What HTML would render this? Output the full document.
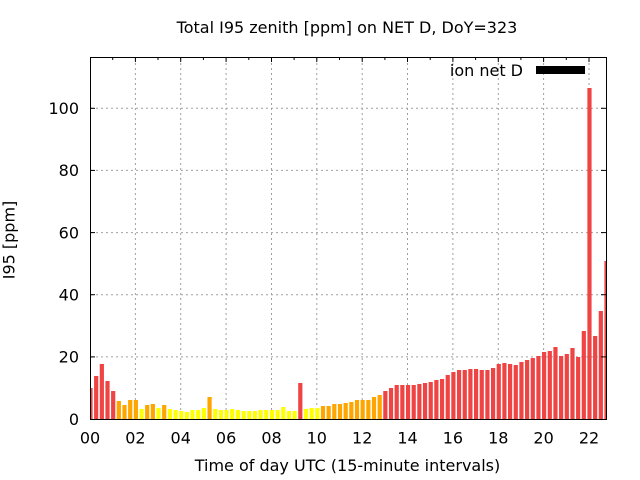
<!DOCTYPE html>
<html>
<head>
<meta charset="utf-8">
<style>
  html, body { margin: 0; padding: 0; background: #ffffff; }
  svg { display: block; }
  text { font-family: "DejaVu Sans", "Liberation Sans", sans-serif; font-size: 16px; fill: #000; }
</style>
</head>
<body>
<svg width="640" height="480" viewBox="0 0 640 480" xmlns="http://www.w3.org/2000/svg">
  <defs>
    <clipPath id="plot">
      <rect x="90" y="57.5" width="516.5" height="362"/>
    </clipPath>
  </defs>
  <rect x="0" y="0" width="640" height="480" fill="#ffffff"/>

  <g stroke="#a0a0a0" stroke-width="1" stroke-dasharray="2,3" fill="none">
    <line x1="135.4" y1="58" x2="135.4" y2="419"/>
    <line x1="180.7" y1="58" x2="180.7" y2="419"/>
    <line x1="226.1" y1="58" x2="226.1" y2="419"/>
    <line x1="271.5" y1="58" x2="271.5" y2="419"/>
    <line x1="316.8" y1="58" x2="316.8" y2="419"/>
    <line x1="362.2" y1="58" x2="362.2" y2="419"/>
    <line x1="407.5" y1="58" x2="407.5" y2="419"/>
    <line x1="452.9" y1="58" x2="452.9" y2="419"/>
    <line x1="498.3" y1="58" x2="498.3" y2="419"/>
    <line x1="543.6" y1="58" x2="543.6" y2="419"/>
    <line x1="589.0" y1="58" x2="589.0" y2="419"/>
    <line x1="91" y1="356.9" x2="606" y2="356.9"/>
    <line x1="91" y1="294.7" x2="606" y2="294.7"/>
    <line x1="91" y1="232.6" x2="606" y2="232.6"/>
    <line x1="91" y1="170.4" x2="606" y2="170.4"/>
    <line x1="91" y1="108.3" x2="606" y2="108.3"/>
  </g>

  <g clip-path="url(#plot)">
    <g transform="translate(90.5,419) scale(5.6703,-1)">
      <g fill="#ef4444">
        <rect x="-0.37" y="0" width="0.74" height="31"/>
        <rect x="0.63" y="0" width="0.74" height="43"/>
        <rect x="1.63" y="0" width="0.74" height="55"/>
        <rect x="2.63" y="0" width="0.74" height="38"/>
        <rect x="3.63" y="0" width="0.74" height="28"/>
        <rect x="36.63" y="0" width="0.74" height="36"/>
        <rect x="51.63" y="0" width="0.74" height="28"/>
        <rect x="52.63" y="0" width="0.74" height="31"/>
        <rect x="53.63" y="0" width="0.74" height="34"/>
        <rect x="54.63" y="0" width="0.74" height="34"/>
        <rect x="55.63" y="0" width="0.74" height="34"/>
        <rect x="56.63" y="0" width="0.74" height="34"/>
        <rect x="57.63" y="0" width="0.74" height="35"/>
        <rect x="58.63" y="0" width="0.74" height="36"/>
        <rect x="59.63" y="0" width="0.74" height="37"/>
        <rect x="60.63" y="0" width="0.74" height="39"/>
        <rect x="61.63" y="0" width="0.74" height="40"/>
        <rect x="62.63" y="0" width="0.74" height="44"/>
        <rect x="63.63" y="0" width="0.74" height="47"/>
        <rect x="64.63" y="0" width="0.74" height="49"/>
        <rect x="65.63" y="0" width="0.74" height="49"/>
        <rect x="66.63" y="0" width="0.74" height="50"/>
        <rect x="67.63" y="0" width="0.74" height="50"/>
        <rect x="68.63" y="0" width="0.74" height="49"/>
        <rect x="69.63" y="0" width="0.74" height="49"/>
        <rect x="70.63" y="0" width="0.74" height="51"/>
        <rect x="71.63" y="0" width="0.74" height="55"/>
        <rect x="72.63" y="0" width="0.74" height="56"/>
        <rect x="73.63" y="0" width="0.74" height="55"/>
        <rect x="74.63" y="0" width="0.74" height="54"/>
        <rect x="75.63" y="0" width="0.74" height="57"/>
        <rect x="76.63" y="0" width="0.74" height="59"/>
        <rect x="77.63" y="0" width="0.74" height="61"/>
        <rect x="78.63" y="0" width="0.74" height="63"/>
        <rect x="79.63" y="0" width="0.74" height="67"/>
        <rect x="80.63" y="0" width="0.74" height="68"/>
        <rect x="81.63" y="0" width="0.74" height="72"/>
        <rect x="82.63" y="0" width="0.74" height="63"/>
        <rect x="83.63" y="0" width="0.74" height="65"/>
        <rect x="84.63" y="0" width="0.74" height="71"/>
        <rect x="85.63" y="0" width="0.74" height="62"/>
        <rect x="86.63" y="0" width="0.74" height="88"/>
        <rect x="87.63" y="0" width="0.74" height="331"/>
        <rect x="88.63" y="0" width="0.74" height="83"/>
        <rect x="89.63" y="0" width="0.74" height="108"/>
        <rect x="90.63" y="0" width="0.74" height="158"/>
      </g>
      <g fill="#ffa500">
        <rect x="4.63" y="0" width="0.74" height="18"/>
        <rect x="5.63" y="0" width="0.74" height="14"/>
        <rect x="6.63" y="0" width="0.74" height="19"/>
        <rect x="7.63" y="0" width="0.74" height="19"/>
        <rect x="9.63" y="0" width="0.74" height="14"/>
        <rect x="10.63" y="0" width="0.74" height="15"/>
        <rect x="12.63" y="0" width="0.74" height="14"/>
        <rect x="20.63" y="0" width="0.74" height="22"/>
        <rect x="40.63" y="0" width="0.74" height="13"/>
        <rect x="41.63" y="0" width="0.74" height="13"/>
        <rect x="42.63" y="0" width="0.74" height="15"/>
        <rect x="43.63" y="0" width="0.74" height="15"/>
        <rect x="44.63" y="0" width="0.74" height="16"/>
        <rect x="45.63" y="0" width="0.74" height="17"/>
        <rect x="46.63" y="0" width="0.74" height="19"/>
        <rect x="47.63" y="0" width="0.74" height="19"/>
        <rect x="48.63" y="0" width="0.74" height="19"/>
        <rect x="49.63" y="0" width="0.74" height="22"/>
        <rect x="50.63" y="0" width="0.74" height="24"/>
      </g>
      <g fill="#ffff00">
        <rect x="8.63" y="0" width="0.74" height="10"/>
        <rect x="11.63" y="0" width="0.74" height="11"/>
        <rect x="13.63" y="0" width="0.74" height="10"/>
        <rect x="14.63" y="0" width="0.74" height="9"/>
        <rect x="15.63" y="0" width="0.74" height="8"/>
        <rect x="16.63" y="0" width="0.74" height="7"/>
        <rect x="17.63" y="0" width="0.74" height="9"/>
        <rect x="18.63" y="0" width="0.74" height="9"/>
        <rect x="19.63" y="0" width="0.74" height="11"/>
        <rect x="21.63" y="0" width="0.74" height="10"/>
        <rect x="22.63" y="0" width="0.74" height="9"/>
        <rect x="23.63" y="0" width="0.74" height="9"/>
        <rect x="24.63" y="0" width="0.74" height="10"/>
        <rect x="25.63" y="0" width="0.74" height="9"/>
        <rect x="26.63" y="0" width="0.74" height="8"/>
        <rect x="27.63" y="0" width="0.74" height="8"/>
        <rect x="28.63" y="0" width="0.74" height="8"/>
        <rect x="29.63" y="0" width="0.74" height="9"/>
        <rect x="30.63" y="0" width="0.74" height="9"/>
        <rect x="31.63" y="0" width="0.74" height="9"/>
        <rect x="32.63" y="0" width="0.74" height="9"/>
        <rect x="33.63" y="0" width="0.74" height="12"/>
        <rect x="34.63" y="0" width="0.74" height="8"/>
        <rect x="35.63" y="0" width="0.74" height="8"/>
        <rect x="37.63" y="0" width="0.74" height="10"/>
        <rect x="38.63" y="0" width="0.74" height="11"/>
        <rect x="39.63" y="0" width="0.74" height="11"/>
      </g>
    </g>
  </g>

  <g stroke="#000" stroke-width="1">
    <line x1="135.4" y1="57" x2="135.4" y2="62"/>
    <line x1="180.7" y1="57" x2="180.7" y2="62"/>
    <line x1="226.1" y1="57" x2="226.1" y2="62"/>
    <line x1="271.5" y1="57" x2="271.5" y2="62"/>
    <line x1="316.8" y1="57" x2="316.8" y2="62"/>
    <line x1="362.2" y1="57" x2="362.2" y2="62"/>
    <line x1="407.5" y1="57" x2="407.5" y2="62"/>
    <line x1="452.9" y1="57" x2="452.9" y2="62"/>
    <line x1="498.3" y1="57" x2="498.3" y2="62"/>
    <line x1="543.6" y1="57" x2="543.6" y2="62"/>
    <line x1="589.0" y1="57" x2="589.0" y2="62"/>
    <line x1="112.7" y1="57" x2="112.7" y2="60"/>
    <line x1="158.0" y1="57" x2="158.0" y2="60"/>
    <line x1="203.4" y1="57" x2="203.4" y2="60"/>
    <line x1="248.8" y1="57" x2="248.8" y2="60"/>
    <line x1="294.1" y1="57" x2="294.1" y2="60"/>
    <line x1="339.5" y1="57" x2="339.5" y2="60"/>
    <line x1="384.9" y1="57" x2="384.9" y2="60"/>
    <line x1="430.2" y1="57" x2="430.2" y2="60"/>
    <line x1="475.6" y1="57" x2="475.6" y2="60"/>
    <line x1="520.9" y1="57" x2="520.9" y2="60"/>
    <line x1="566.3" y1="57" x2="566.3" y2="60"/>
    <line x1="90" y1="356.9" x2="95" y2="356.9"/>
    <line x1="90" y1="294.7" x2="95" y2="294.7"/>
    <line x1="90" y1="232.6" x2="95" y2="232.6"/>
    <line x1="90" y1="170.4" x2="95" y2="170.4"/>
    <line x1="90" y1="108.3" x2="95" y2="108.3"/>
    <line x1="601" y1="356.9" x2="606" y2="356.9"/>
    <line x1="601" y1="294.7" x2="606" y2="294.7"/>
    <line x1="601" y1="232.6" x2="606" y2="232.6"/>
    <line x1="601" y1="170.4" x2="606" y2="170.4"/>
    <line x1="601" y1="108.3" x2="606" y2="108.3"/>
  </g>

  <rect x="90.5" y="57.5" width="516" height="362" fill="none" stroke="#000" stroke-width="1"/>

  <text x="523" y="76" text-anchor="end">ion net D</text>
  <rect x="536" y="66" width="49" height="8" fill="#000"/>

  <g text-anchor="end">
    <text x="79" y="424.8">0</text>
    <text x="79" y="362.7">20</text>
    <text x="79" y="300.5">40</text>
    <text x="79" y="238.4">60</text>
    <text x="79" y="176.2">80</text>
    <text x="79" y="114.1">100</text>
  </g>

  <g text-anchor="middle">
    <text x="90" y="443.5">00</text>
    <text x="135.4" y="443.5">02</text>
    <text x="180.7" y="443.5">04</text>
    <text x="226.1" y="443.5">06</text>
    <text x="271.5" y="443.5">08</text>
    <text x="316.8" y="443.5">10</text>
    <text x="362.2" y="443.5">12</text>
    <text x="407.5" y="443.5">14</text>
    <text x="452.9" y="443.5">16</text>
    <text x="498.3" y="443.5">18</text>
    <text x="543.6" y="443.5">20</text>
    <text x="589.0" y="443.5">22</text>
  </g>

  <text x="347" y="33" text-anchor="middle">Total I95 zenith [ppm] on NET D, DoY=323</text>
  <text x="347.5" y="471" text-anchor="middle">Time of day UTC (15-minute intervals)</text>
  <text x="0" y="0" text-anchor="middle" transform="translate(14.7,240) rotate(-90)">I95 [ppm]</text>
</svg>
</body>
</html>
